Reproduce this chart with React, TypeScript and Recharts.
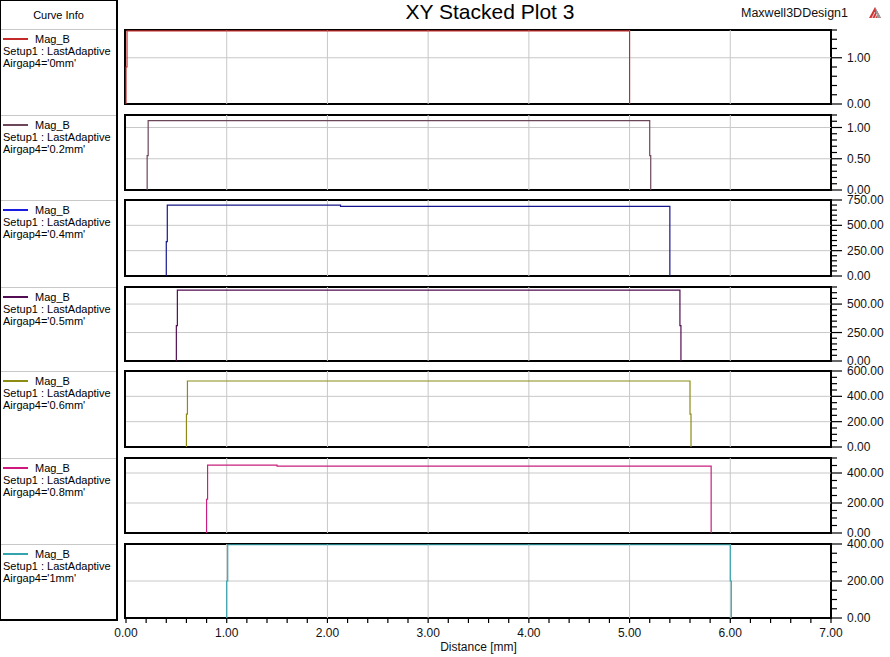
import { CartesianGrid, Line, LineChart, XAxis, YAxis } from "recharts";

const FONT = "'Liberation Sans', Arial, Helvetica, sans-serif";

// one curve per Airgap4 value
const airgaps = ["0mm", "0.2mm", "0.4mm", "0.5mm", "0.6mm", "0.8mm", "1mm"];
const curveColors = ["#c42a2a", "#6b4659", "#16168c", "#520c52", "#8c8c14", "#c81f7c", "#33a3ad"];
const swatchColors = ["#c42a2a", "#6b4659", "#1a1ae0", "#520c52", "#8c8c14", "#d0187c", "#33a3ad"];

// Distance [mm] / Mag_B points of each curve
const dist0 = [0.0, 0.0, 0.01, 0.01, 5.0, 5.0];
const magB0 = [0, 0.8, 0.8, 1.58, 1.58, 0];
const dist1 = [0.21, 0.21, 0.22, 0.22, 5.2, 5.2, 5.21, 5.21];
const magB1 = [0, 0.55, 0.55, 1.11, 1.11, 0.55, 0.55, 0];
const dist2 = [0.4, 0.4, 0.41, 0.41, 2.13, 2.13, 5.4, 5.4];
const magB2 = [0, 340, 340, 700, 700, 688, 688, 0];
const dist3 = [0.5, 0.5, 0.51, 0.51, 5.5, 5.5, 5.51, 5.51];
const magB3 = [0, 310, 310, 622, 622, 310, 310, 0];
const dist4 = [0.6, 0.6, 0.61, 0.61, 5.6, 5.6, 5.61, 5.61];
const magB4 = [0, 260, 260, 521, 521, 260, 260, 0];
const dist5 = [0.8, 0.8, 0.81, 0.81, 1.5, 1.5, 5.81, 5.81];
const magB5 = [0, 225, 225, 452, 452, 446, 446, 0];
const dist6 = [1.0, 1.0, 1.01, 1.01, 6.0, 6.0, 6.01, 6.01];
const magB6 = [0, 200, 200, 396, 396, 200, 200, 0];

const dists = [dist0, dist1, dist2, dist3, dist4, dist5, dist6];
const mags = [magB0, magB1, magB2, magB3, magB4, magB5, magB6];

// y axes
const yMax = [1.6, 1.2, 750, 650, 600, 500, 400];
const yStep = [0.2, 0.1, 50, 50, 50, 50, 50];
const yLabels = [
  [0, 1],
  [0, 0.5, 1],
  [0, 250, 500, 750],
  [0, 250, 500],
  [0, 200, 400, 600],
  [0, 200, 400],
  [0, 200, 400],
];

// x axis
const xMax = 7;
const xStep = 0.2;
const xLabels = [0, 1, 2, 3, 4, 5, 6, 7];

// layout of the stacked panels (page px)
const panelTop = [30, 115, 200, 287, 371, 458, 544];
const panelBottom = [104, 190, 276, 361, 447, 533, 618];
const PLOT_LEFT = 126;
const AXIS_W = 59;
const W = 890;
const AXIS_X = W - AXIS_W;
const M = 10;

const steps = (max: number, step: number) => {
  const out: number[] = [];
  const n = Math.round(max / step);
  for (let k = 0; k <= n; k++) out.push(Math.round(k * step * 1000) / 1000);
  return out;
};
const has = (arr: number[], v: number) => arr.some((a) => Math.abs(a - v) < 1e-6);

function YTick(props: any) {
  const { y, payload, labels } = props;
  const major = has(labels, payload.value);
  return (
    <g>
      <line x1={AXIS_X} x2={AXIS_X + (major ? 11 : 6)} y1={y} y2={y} stroke="#000" strokeWidth={1.2} />
      {major && (
        <text x={AXIS_X + 16} y={y} dy={4} fontSize={12} fontFamily={FONT} fill="#111">
          {payload.value.toFixed(2)}
        </text>
      )}
    </g>
  );
}

function XTick(props: any) {
  const { x, payload, bottom } = props;
  const major = has(xLabels, payload.value);
  return (
    <g>
      <line x1={x} x2={x} y1={bottom} y2={bottom + 5} stroke="#000" strokeWidth={1.2} />
      {major && (
        <text x={x} y={bottom + 19} textAnchor="middle" fontSize={12} fontFamily={FONT} fill="#111">
          {payload.value.toFixed(2)}
        </text>
      )}
    </g>
  );
}

function Panel({ i }: { i: number }) {
  const top = panelTop[i];
  const h = panelBottom[i] - top;
  const last = i === dists.length - 1;
  const axisH = last ? 28 : 0;
  const height = h + 2 * M + axisH;
  const data = dists[i].map((d, k) => ({ x: d, y: mags[i][k] }));
  const yTicks = steps(yMax[i], yStep[i]);
  const xTicks = steps(xMax, xStep);
  const gridY = yLabels[i].filter((v) => v > 0 && v < yMax[i]);
  const gridX = xLabels.filter((v) => v > 0 && v < xMax);
  return (
    <div style={{ position: "absolute", left: 0, top: top - M, width: W, height }}>
      <div
        style={{
          position: "absolute",
          left: PLOT_LEFT - 2,
          top: M - 1,
          width: AXIS_X - PLOT_LEFT + 3,
          height: h + 2,
          border: "2px solid #000",
          boxSizing: "border-box",
        }}
      />
      <div style={{ position: "absolute", left: 0, top: 0 }}>
        <LineChart
          width={W}
          height={height}
          data={data}
          margin={{ top: M, right: 0, bottom: M, left: PLOT_LEFT }}
        >
          <CartesianGrid
            stroke="#c8c8c8"
            strokeWidth={1}
            horizontalValues={gridY}
            verticalValues={gridX}
          />
          <XAxis
            type="number"
            dataKey="x"
            domain={[0, xMax]}
            ticks={xTicks}
            interval={0}
            hide={!last}
            height={axisH}
            axisLine={false}
            tickLine={false}
            tickSize={0}
            tick={(p: any) => <XTick {...p} bottom={M + h} />}
          />
          <YAxis
            orientation="right"
            type="number"
            width={AXIS_W}
            domain={[0, yMax[i]]}
            ticks={yTicks}
            interval={0}
            axisLine={false}
            tickLine={false}
            tickSize={0}
            allowDataOverflow
            tick={(p: any) => <YTick {...p} labels={yLabels[i]} />}
          />
          <Line
            type="linear"
            dataKey="y"
            stroke={curveColors[i]}
            strokeWidth={1.2}
            dot={false}
            isAnimationActive={false}
          />
        </LineChart>
      </div>
    </div>
  );
}

function CurveInfo() {
  const rowTops = [29, ...panelTop.slice(1)];
  return (
    <div
      style={{
        position: "absolute",
        left: 0,
        top: 0,
        width: 118,
        height: 621,
        borderTop: "1px solid #000",
        borderLeft: "1px solid #000",
        borderRight: "2px solid #000",
        borderBottom: "2px solid #000",
        boxSizing: "border-box",
        fontFamily: FONT,
        fontSize: 11,
        color: "#000",
      }}
    >
      <div style={{ position: "absolute", left: 0, width: 115, top: 8, textAlign: "center", lineHeight: "12px" }}>
        Curve Info
      </div>
      {airgaps.map((g, k) => (
        <div
          key={g}
          style={{
            position: "absolute",
            left: 0,
            width: 115,
            top: rowTops[k] - 1,
            borderTop: "1px solid #c8c8c8",
            lineHeight: "12px",
          }}
        >
          <div style={{ position: "absolute", left: 2, top: 8, width: 25, height: 2, background: swatchColors[k] }} />
          <div style={{ position: "absolute", left: 34, top: 3 }}>Mag_B</div>
          <div style={{ position: "absolute", left: 2, top: 15, whiteSpace: "nowrap" }}>Setup1 : LastAdaptive</div>
          <div style={{ position: "absolute", left: 2, top: 27, whiteSpace: "nowrap" }}>Airgap4='{g}'</div>
        </div>
      ))}
    </div>
  );
}

export default function App() {
  return (
    <div
      style={{
        position: "absolute",
        left: 0,
        top: 0,
        width: W,
        height: 657,
        background: "#fff",
        fontFamily: FONT,
        overflow: "hidden",
      }}
    >
      <CurveInfo />
      <div
        style={{
          position: "absolute",
          left: 370,
          width: 240,
          top: 0,
          textAlign: "center",
          fontSize: 21,
          lineHeight: "24px",
          color: "#000",
        }}
      >
        XY Stacked Plot 3
      </div>
      <div style={{ position: "absolute", right: 890 - 848, top: 6, fontSize: 12.5, lineHeight: "15px", color: "#111" }}>
        Maxwell3DDesign1
      </div>
      <svg style={{ position: "absolute", left: 868, top: 6 }} width={16} height={14}>
        <polygon points="1,12 7,1 13,12" fill="#d03434" />
        <polygon points="7,1 13,12 9,12" fill="#9a9a9a" />
        <line x1={4} y1={12} x2={7} y2={6} stroke="#fff" strokeWidth={0.8} />
        <line x1={7} y1={12} x2={9} y2={8} stroke="#fff" strokeWidth={0.8} />
      </svg>
      {dists.map((_, i) => (
        <Panel key={i} i={i} />
      ))}
      <div
        style={{
          position: "absolute",
          left: PLOT_LEFT,
          width: AXIS_X - PLOT_LEFT,
          top: 640,
          textAlign: "center",
          fontSize: 12,
          lineHeight: "14px",
          color: "#111",
        }}
      >
        Distance [mm]
      </div>
    </div>
  );
}
